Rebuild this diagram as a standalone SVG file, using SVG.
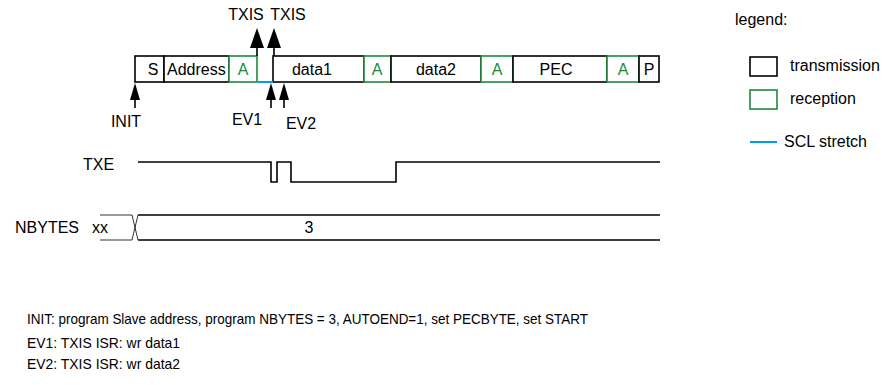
<svg xmlns="http://www.w3.org/2000/svg" width="885" height="385" viewBox="0 0 885 385">
<style>
text{font-family:"Liberation Sans",Arial,sans-serif;font-size:16px;fill:#000}
.g{fill:#1e8a3c}
.m{text-anchor:middle}
.note{font-size:14.5px}
.tx{fill:#fff;stroke:#000;stroke-width:1.6}
.rx{fill:#fff;stroke:#1e8a3c;stroke-width:1.6}
.scl{stroke:#00a0e0;stroke-width:2;fill:none}
.sig{fill:none;stroke:#000;stroke-width:1.6}
.thin{fill:none;stroke:#000;stroke-width:0.8}
.ar{stroke:#000;stroke-width:1.6;fill:none}
.hd{fill:#000}
</style>
<rect width="885" height="385" fill="#fff"/>

<g id="frame">
  <rect class="tx" x="135" y="56" width="29" height="26"/>
  <rect class="tx" x="164" y="56" width="65" height="26"/>
  <rect class="rx" x="229" y="56" width="28" height="26"/>
  <rect class="tx" x="273" y="56" width="91" height="26"/>
  <rect class="rx" x="364" y="56" width="27" height="26"/>
  <rect class="tx" x="391" y="56" width="90" height="26"/>
  <rect class="rx" x="481" y="56" width="32" height="26"/>
  <rect class="tx" x="513" y="56" width="94" height="26"/>
  <rect class="rx" x="607" y="56" width="32" height="26"/>
  <rect class="tx" x="639" y="56" width="20" height="26"/>
  <line class="scl" x1="258" y1="82" x2="273" y2="82"/>
  <text class="m" x="153" y="75">S</text>
  <text x="167" y="75">Address</text>
  <text class="m g" x="243" y="75">A</text>
  <text class="m" x="312" y="75">data1</text>
  <text class="m g" x="377" y="75">A</text>
  <text class="m" x="436" y="75">data2</text>
  <text class="m g" x="497" y="75">A</text>
  <text class="m" x="556" y="75">PEC</text>
  <text class="m g" x="623" y="75">A</text>
  <text class="m" x="649" y="75">P</text>
</g>

<g id="connectors">
  <line class="ar" x1="257" y1="56" x2="257" y2="44"/>
  <polygon class="hd" points="257,28 250,48 264,48"/>
  <line class="ar" x1="274" y1="56" x2="274" y2="44"/>
  <polygon class="hd" points="274,28 267,48 281,48"/>
  <line class="ar" x1="135" y1="108" x2="135" y2="96"/>
  <polygon class="hd" points="135,83 130,100 140,100"/>
  <line class="ar" x1="271" y1="108" x2="271" y2="96"/>
  <polygon class="hd" points="271,83 266,100 276,100"/>
  <line class="ar" x1="284" y1="108" x2="284" y2="96"/>
  <polygon class="hd" points="284,83 279,100 289,100"/>
</g>

<g id="labels">
  <text class="m" x="246" y="20">TXIS</text>
  <text class="m" x="288" y="20">TXIS</text>
  <text class="m" x="126" y="127">INIT</text>
  <text class="m" x="247" y="125">EV1</text>
  <text class="m" x="301" y="129">EV2</text>
</g>

<g id="txe">
  <text x="83" y="170">TXE</text>
  <path class="sig" d="M138,162 H271 V182 H277 V162 H291 V182 H396 V162 H660"/>
</g>

<g id="nbytes">
  <text x="15" y="233">NBYTES</text>
  <text x="92" y="233">xx</text>
  <path class="thin" d="M100,215 H132 L138,240 M100,240 H132 L138,215"/>
  <path class="sig" d="M138,215 H660 M138,240 H660"/>
  <text class="m" x="309" y="233">3</text>
</g>

<g id="legend">
  <text x="735" y="25">legend:</text>
  <rect class="tx" x="750" y="57" width="27" height="19"/>
  <text x="790" y="71">transmission</text>
  <rect class="rx" x="750" y="90" width="27" height="19"/>
  <text x="790" y="104">reception</text>
  <line class="scl" x1="750" y1="142" x2="777" y2="142"/>
  <text x="784" y="147">SCL stretch</text>
</g>

<g id="notes">
  <text class="note" x="27" y="324" textLength="561" lengthAdjust="spacingAndGlyphs">INIT: program Slave address, program NBYTES = 3, AUTOEND=1, set PECBYTE, set START</text>
  <text class="note" x="27" y="348" textLength="153" lengthAdjust="spacingAndGlyphs">EV1: TXIS ISR: wr data1</text>
  <text class="note" x="27" y="369" textLength="153" lengthAdjust="spacingAndGlyphs">EV2: TXIS ISR: wr data2</text>
</g>
</svg>
